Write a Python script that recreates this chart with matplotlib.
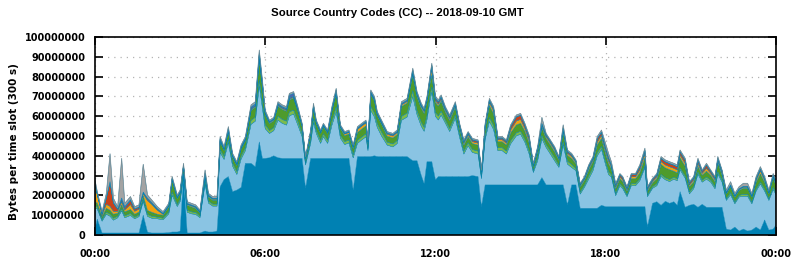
import matplotlib
matplotlib.use("Agg")
import matplotlib.pyplot as plt
import numpy as np

# time of day in hours, values in millions of bytes per 300 s slot
hours = [0.00, 0.08, 0.25, 0.40, 0.53, 0.65, 0.80, 0.94, 1.05, 1.25,
         1.40, 1.55, 1.70, 1.85, 2.00, 2.20, 2.40, 2.60, 2.72, 2.90,
         3.00, 3.12, 3.25, 3.40, 3.55, 3.70, 3.88, 4.00, 4.15, 4.30,
         4.41, 4.55, 4.70, 4.85, 5.00, 5.15, 5.30, 5.50, 5.65, 5.79,
         5.90, 6.00, 6.15, 6.30, 6.45, 6.60, 6.75, 6.85, 7.00, 7.15,
         7.30, 7.42, 7.60, 7.70, 7.80, 7.95, 8.05, 8.20, 8.35, 8.50,
         8.65, 8.80, 8.95, 9.10, 9.25, 9.40, 9.55, 9.62, 9.72, 9.85,
         9.95, 10.10, 10.30, 10.50, 10.65, 10.80, 11.00, 11.20, 11.35, 11.50,
         11.60, 11.70, 11.80, 11.87, 12.00, 12.10, 12.20, 12.35, 12.50, 12.70,
         12.85, 13.00, 13.15, 13.30, 13.50, 13.62, 13.75, 13.90, 14.05, 14.20,
         14.35, 14.50, 14.65, 14.85, 15.00, 15.15, 15.30, 15.45, 15.60, 15.75,
         15.90, 16.05, 16.20, 16.35, 16.50, 16.65, 16.80, 16.95, 17.10, 17.25,
         17.40, 17.55, 17.70, 17.85, 18.00, 18.10, 18.20, 18.35, 18.50, 18.60,
         18.75, 18.90, 19.05, 19.20, 19.38, 19.47, 19.65, 19.80, 19.95, 20.10,
         20.25, 20.40, 20.52, 20.62, 20.80, 20.95, 21.10, 21.25, 21.40, 21.55,
         21.70, 21.85, 21.95, 22.10, 22.25, 22.40, 22.55, 22.70, 22.85, 23.00,
         23.15, 23.30, 23.45, 23.60, 23.75, 23.90, 24.00]

dark_blue = [3, 8, 1, 1, 1, 1, 1, 1, 1, 1,
             1, 1, 10, 1.5, 1, 1, 1, 1.2, 1.5, 1.5,
             2, 29.5, 1, 1, 1, 1, 2, 1.5, 1.5, 2,
             24.4, 28, 29.5, 21.9, 22.7, 24, 36.2, 36.2, 34.5, 47,
             38.7, 38.7, 39, 40, 39, 38.7, 38.7, 38.7, 38.7, 38.7,
             38.7, 23.6, 38.7, 38.7, 38.7, 38.7, 38.7, 38.7, 38.7, 38.7,
             38.7, 38.7, 38.7, 22.7, 39.6, 39.6, 39.6, 39.6, 39.6, 40,
             39.6, 39.6, 39.6, 39.6, 39.6, 39.6, 39.6, 37.5, 37.5, 30,
             26, 37, 37, 37, 27.8, 29.5, 29.5, 29.5, 29.5, 29.5,
             29.5, 29.5, 29.5, 30, 29.5, 14.3, 25.3, 25.3, 25.3, 25.3,
             25.3, 25.3, 25.3, 25.3, 25.3, 25.3, 25.3, 25.3, 25.3, 29,
             25.3, 25.3, 25.3, 25.3, 25.3, 15.2, 25.3, 25.3, 13.5, 13.5,
             13.5, 13.5, 13.5, 15, 14.3, 14.3, 14.3, 14.3, 14.3, 14.3,
             14.3, 14.3, 14.3, 14.3, 14.3, 4.2, 16, 16.8, 15, 17,
             16, 16.8, 15, 21.9, 14, 15, 15.5, 14, 15.5, 14,
             14, 14, 14, 14, 3, 2.5, 4, 2, 3, 2,
             2.5, 4, 2.5, 7.6, 2.5, 3, 5]

light_blue = [10.5, 5.2, 6.0, 9.5, 8.5, 6.5, 7.7, 11.2, 7.7, 8.9,
              7.2, 8.3, 6.9, 7.9, 7.5, 7.2, 6.7, 9.5, 18.6, 12.9,
              14.9, 0.8, 10.5, 9.7, 9.4, 7.8, 23.8, 14.6, 13.1, 12.6,
              17.3, 10.2, 17.2, 12.9, 7.9, 14.4, 6.4, 19.7, 23, 28.4,
              25.5, 15, 12.3, 12.7, 19, 17.7, 16.8, 21.5, 22.4, 16.8,
              11, 11.8, 7.6, 18.2, 12.6, 7.6, 11, 7.6, 16.8, 23.5,
              10.2, 7, 7.8, 16.3, 6.7, 8.4, 10, 3.1, 23.3, 19.6,
              14.7, 10.4, 5.8, 4.9, 6.6, 18.3, 20, 32.4, 23.3, 24.9,
              26.4, 21.3, 30.5, 35.2, 32.1, 28.6, 31.1, 27, 22.8, 29.5,
              19.8, 11.4, 15.6, 11.7, 11.4, 14.2, 23, 32.1, 27.9, 17.3,
              17.3, 15.6, 20.8, 24.8, 25.6, 21.6, 15.7, 6.3, 12.2, 19.7,
              18.9, 15.6, 12.2, 8.9, 20.3, 20.6, 8.8, 7.2, 7.2, 10.6,
              14.8, 19, 26.5, 28.3, 21, 16.2, 15, 5.6, 10.6, 9.1,
              5.1, 10.6, 10.6, 13.1, 19.7, 15.2, 7.6, 8.1, 14.6, 10.9,
              11, 11.4, 12.4, 11, 14.7, 5.8, 7.9, 16.7, 11.2, 14.2,
              12.7, 9.4, 16.8, 12.7, 14.5, 17.9, 11.8, 17.2, 16.6, 17.6,
              13.3, 18.2, 23.3, 14.6, 15, 20, 15.5]

light_green = [1, 1, 0.8, 1, 1, 1, 0.8, 1, 1, 1,
               0.8, 0.8, 1, 1, 1, 0.8, 0.8, 1, 1.5, 1,
               1, 1, 1, 1, 1, 0.8, 1, 1, 1, 1,
               1.5, 1.5, 1.5, 1.5, 1.5, 1.5, 1.5, 2, 2, 3,
               2.5, 2, 1.5, 1.5, 2, 2, 2, 2, 2, 2,
               1.5, 1, 1.5, 2, 1.5, 1.5, 1.5, 1.5, 2, 2.5,
               1.5, 1.5, 1.5, 1.5, 1.5, 1.5, 1.5, 1, 2, 2,
               2, 2, 1.5, 1.5, 1.5, 2, 2, 3, 2, 2,
               2, 2, 2.5, 2.5, 2, 2, 2, 1.5, 1.5, 1.5,
               1.5, 1.5, 1.5, 1.5, 1.5, 1, 1.5, 2, 2, 1.5,
               1.5, 1.5, 1.5, 1.5, 1.5, 1.5, 1.5, 1, 1.5, 1.5,
               1.5, 1.5, 1.5, 1, 1.5, 1.5, 1.5, 1, 1, 1,
               1.5, 1.5, 1.5, 1.5, 1.5, 1.5, 1, 1, 1, 1,
               0.8, 1, 1, 1, 1, 0.8, 0.8, 1, 1, 1,
               1, 1, 1, 1, 1, 1, 1, 1, 1, 1,
               1, 1, 1, 1, 0.8, 1, 0.8, 0.8, 1, 1,
               0.8, 1, 1, 1, 0.8, 1, 1]

green = [2, 2, 1.5, 2, 2, 2, 1.5, 2, 2, 2,
         1.5, 1.5, 2, 2, 2, 1.5, 1.5, 2.5, 6, 3,
         3, 3, 2.5, 2.5, 2, 1.5, 2.5, 2, 2, 2,
         4, 3, 4, 3, 3, 3.5, 3.5, 5, 5, 10,
         8, 5, 3.5, 3.5, 5, 5, 5, 6, 6, 5,
         3.5, 2, 3.5, 5, 3.5, 3.5, 3.5, 3.5, 5, 7,
         3.5, 3, 3, 3, 4, 4, 4, 2.5, 6, 6,
         4, 4, 3, 3, 3, 5, 5, 8, 7, 7,
         7, 7, 6, 6, 5, 5, 5, 4, 4, 4,
         3, 3, 3, 3, 3, 2, 4, 6, 6, 3,
         3, 3, 4, 4, 4, 4, 4, 2, 3, 4,
         3, 3, 3, 2.5, 5, 3, 3, 2.5, 2.5, 2.5,
         3, 3, 4, 4, 4, 4, 3, 2.5, 2.5, 2.5,
         2, 2.5, 2.5, 3, 4, 2, 2, 2.5, 5, 5,
         5, 3, 3, 5, 5, 2.5, 2.5, 3, 2.5, 3,
         2.5, 2.5, 5, 2.5, 2.5, 3, 2.5, 2.5, 3, 3,
         2.5, 3.5, 4, 3.5, 2.5, 5, 3.5]

orange = [9, 4, 1, 2, 2, 1.5, 1, 1.5, 1, 2.5,
          1.5, 1.5, 1, 5, 4, 2, 0.5, 0.5, 0.5, 0.5,
          0.5, 0.5, 0.5, 0.5, 0.5, 0.4, 0.5, 0.5, 0.5, 0.5,
          0.5, 0.5, 0.5, 0.5, 0.5, 0.5, 0.5, 0.5, 0.5, 1,
          0.8, 0.5, 0.5, 0.5, 0.5, 0.5, 0.5, 0.5, 0.5, 0.5,
          0.5, 0.3, 0.5, 0.5, 0.5, 0.5, 0.5, 0.5, 0.5, 0.5,
          0.5, 0.8, 0.8, 0.8, 1.5, 1.5, 1.5, 0.8, 0.5, 0.5,
          0.5, 0.5, 1, 1, 1, 0.8, 0.8, 1, 1, 1,
          1, 1, 1.5, 3, 1, 1, 1, 1, 1, 1,
          1, 1, 1, 1, 1, 0.5, 1, 1.5, 1.5, 1,
          1, 1, 1.5, 2, 2, 1.5, 1.5, 0.5, 1, 1,
          1, 1, 1, 0.8, 1, 1, 1, 0.8, 0.8, 0.8,
          1, 1, 1.5, 1.5, 1.5, 1.5, 1, 1, 1, 1,
          0.8, 1, 1, 1.5, 2, 0.8, 0.8, 1, 1.5, 1.5,
          1.5, 1.5, 1.5, 1.5, 1.5, 1, 1, 1.5, 1, 1.5,
          1, 1, 1, 1, 0.5, 0.5, 0.5, 0.5, 0.5, 0.5,
          0.5, 1, 1.5, 1, 0.5, 0.5, 1]

red = [0.5, 0.5, 0.5, 3, 12, 4, 1, 1, 1, 2,
       1, 0.8, 0.5, 0.8, 0.5, 0.5, 0.3, 0.3, 0.3, 0.3,
       0.3, 0.3, 0.3, 0.3, 0.3, 0.3, 0.5, 0.3, 0.3, 0.3,
       0.5, 0.3, 0.5, 0.3, 0.3, 0.3, 0.3, 0.5, 0.5, 1,
       0.8, 0.5, 0.3, 0.3, 0.5, 0.5, 0.5, 0.5, 0.5, 0.5,
       0.3, 0.2, 0.3, 0.5, 0.3, 0.3, 0.3, 0.3, 0.5, 0.5,
       0.3, 0.3, 0.3, 0.3, 0.5, 0.5, 0.5, 0.3, 0.5, 0.5,
       0.5, 0.5, 0.5, 0.5, 0.5, 0.5, 0.5, 0.8, 0.5, 0.5,
       0.5, 0.5, 1, 1.5, 1, 1, 1, 0.8, 0.8, 0.8,
       0.8, 0.8, 0.8, 0.8, 0.8, 0.3, 0.8, 1, 1, 0.8,
       0.8, 0.8, 1.5, 2, 2, 1.5, 1.5, 0.5, 0.8, 1,
       0.8, 0.8, 0.8, 0.5, 0.8, 0.8, 0.8, 0.5, 0.5, 0.5,
       0.8, 0.8, 1.5, 1.5, 1.5, 1.5, 1, 1, 1, 1,
       0.8, 1, 1, 1.5, 1.5, 0.8, 0.8, 1, 1.5, 1.5,
       1.5, 1.5, 1.5, 1.5, 1.5, 1, 1, 1.5, 1, 1.5,
       1, 1, 0.8, 1, 0.3, 0.3, 0.3, 0.3, 0.3, 0.3,
       0.3, 0.8, 1, 0.8, 0.3, 0.5, 0.8]

blue = [0.3, 0.3, 0.2, 0.5, 0.5, 0.5, 0.3, 1, 0.8, 0.5,
        0.3, 0.3, 0.3, 0.5, 0.5, 0.3, 0.2, 0.2, 0.3, 0.2,
        0.2, 0.3, 0.2, 0.2, 0.2, 0.2, 1, 0.3, 0.2, 0.2,
        0.5, 0.3, 0.5, 0.3, 0.3, 0.5, 0.5, 0.8, 0.8, 1.5,
        1, 0.5, 0.3, 0.3, 0.5, 0.5, 0.5, 1.5, 1.5, 0.5,
        0.3, 0.2, 0.3, 0.8, 0.3, 0.3, 0.3, 0.3, 0.5, 0.5,
        0.3, 0.3, 0.3, 0.3, 0.3, 0.3, 0.3, 0.2, 0.5, 0.5,
        0.3, 0.3, 0.2, 0.2, 0.2, 0.3, 0.3, 0.5, 0.3, 0.3,
        0.3, 0.3, 0.5, 0.5, 0.3, 0.3, 0.3, 0.2, 0.2, 0.2,
        0.2, 0.2, 0.2, 0.2, 0.2, 0.1, 0.2, 0.3, 0.3, 0.2,
        0.2, 0.2, 0.2, 0.2, 0.2, 0.2, 0.2, 0.1, 0.2, 0.2,
        0.2, 0.2, 0.2, 0.1, 0.2, 0.2, 0.2, 0.1, 0.1, 0.1,
        0.2, 0.2, 0.2, 0.2, 0.2, 0.2, 0.2, 0.1, 0.1, 0.1,
        0.1, 0.1, 0.1, 0.2, 0.3, 0.1, 0.1, 0.1, 0.2, 0.2,
        0.2, 0.2, 0.2, 0.2, 0.2, 0.1, 0.1, 0.2, 0.1, 0.2,
        0.1, 0.1, 0.2, 0.1, 0.1, 0.2, 0.1, 0.1, 0.2, 0.2,
        0.1, 0.2, 0.2, 0.2, 0.1, 0.2, 0.2]

grey = [1.5, 1, 0.8, 2, 14, 2, 1, 20, 1.5, 1.5,
        1, 1, 14, 1.5, 1.2, 1, 0.8, 0.8, 0.8, 0.8,
        0.8, 0.8, 0.8, 0.8, 0.8, 0.6, 1.5, 0.8, 0.8, 0.8,
        1, 0.8, 1, 0.8, 0.8, 0.8, 0.8, 1, 1, 1.5,
        1, 0.8, 0.6, 0.6, 0.8, 0.8, 0.8, 0.8, 0.8, 0.8,
        0.6, 0.5, 0.6, 0.8, 0.6, 0.6, 0.6, 0.6, 0.8, 0.8,
        0.6, 0.6, 0.6, 0.6, 0.6, 0.6, 0.6, 0.5, 0.8, 0.8,
        0.7, 0.7, 0.6, 0.6, 0.6, 0.8, 0.8, 1, 0.8, 0.8,
        0.8, 0.8, 1, 1, 0.8, 0.8, 0.8, 0.8, 0.8, 0.8,
        0.6, 0.6, 0.6, 0.6, 0.6, 0.4, 0.6, 0.8, 0.8, 0.6,
        0.6, 0.6, 0.8, 0.8, 0.8, 0.8, 0.8, 0.5, 0.6, 3,
        0.6, 0.6, 0.6, 0.5, 1.5, 0.6, 0.6, 0.5, 0.5, 0.5,
        0.6, 0.6, 1, 1, 2, 2, 1.5, 0.5, 0.5, 0.5,
        0.5, 0.5, 0.5, 0.8, 1, 0.5, 0.5, 0.5, 0.8, 0.8,
        0.8, 0.8, 0.8, 0.8, 0.8, 0.5, 0.5, 0.8, 0.5, 0.8,
        0.5, 0.5, 0.8, 0.5, 1, 1.5, 1, 1, 1.5, 1.5,
        1, 0.8, 1, 0.8, 1, 0.8, 0.8]

series = [dark_blue, light_blue, light_green, green, orange, red, blue, grey]
colors = ["#0081B3", "#8AC4E3", "#7DBB4C", "#4E9B2B", "#F2A30F", "#C9421B", "#4A68AE", "#A3A3A3"]


def plot_chart():
    fig = plt.figure(figsize=(7.94, 2.6), dpi=100)
    ax = fig.add_axes([95 / 794, 25 / 260, 681 / 794, 198 / 260])

    ys = [np.array(s) * 1e6 for s in series]
    ax.stackplot(hours, ys, colors=colors, linewidth=0.3,
                 edgecolors=colors, zorder=2)
    # soft grey outline along the top of the stack
    ax.plot(hours, np.sum(ys, axis=0), color="#8C8C8C", linewidth=0.6, alpha=0.7, zorder=3)

    ax.set_xlim(0, 24)
    ax.set_ylim(0, 1e8)
    ax.set_xticks([0, 6, 12, 18, 24])
    ax.set_xticklabels(["00:00", "06:00", "12:00", "18:00", "00:00"])
    yt = np.arange(0, 100000001, 10000000)
    ax.set_yticks(yt)
    ax.set_yticklabels([str(v) for v in yt])

    ax.grid(True, color="#B4B4B4", linestyle=(0, (1, 4)), linewidth=0.9, zorder=0)
    ax.set_axisbelow(True)
    ax.tick_params(direction="in", length=6, width=1.2, top=True, right=True,
                   labelsize=7, colors="black")
    ax.tick_params(axis="x", pad=10)
    ax.tick_params(axis="y", pad=7)
    for lab in ax.get_xticklabels() + ax.get_yticklabels():
        lab.set_fontweight("bold")
    for sp in ax.spines.values():
        sp.set_linewidth(1.2)
        sp.set_zorder(5)

    ax.set_ylabel("Bytes per time slot (300 s)", fontsize=7.5, fontweight="bold")
    ax.yaxis.set_label_coords(-0.112, 0.47)
    fig.text(0.5, 1 - 13 / 260, "Source Country Codes (CC) -- 2018-09-10 GMT",
             ha="center", va="center", fontsize=8.2, fontweight="bold",
             family="Liberation Sans")

    fig.savefig("out.png", dpi=100)


def main():
    plot_chart()


main()
